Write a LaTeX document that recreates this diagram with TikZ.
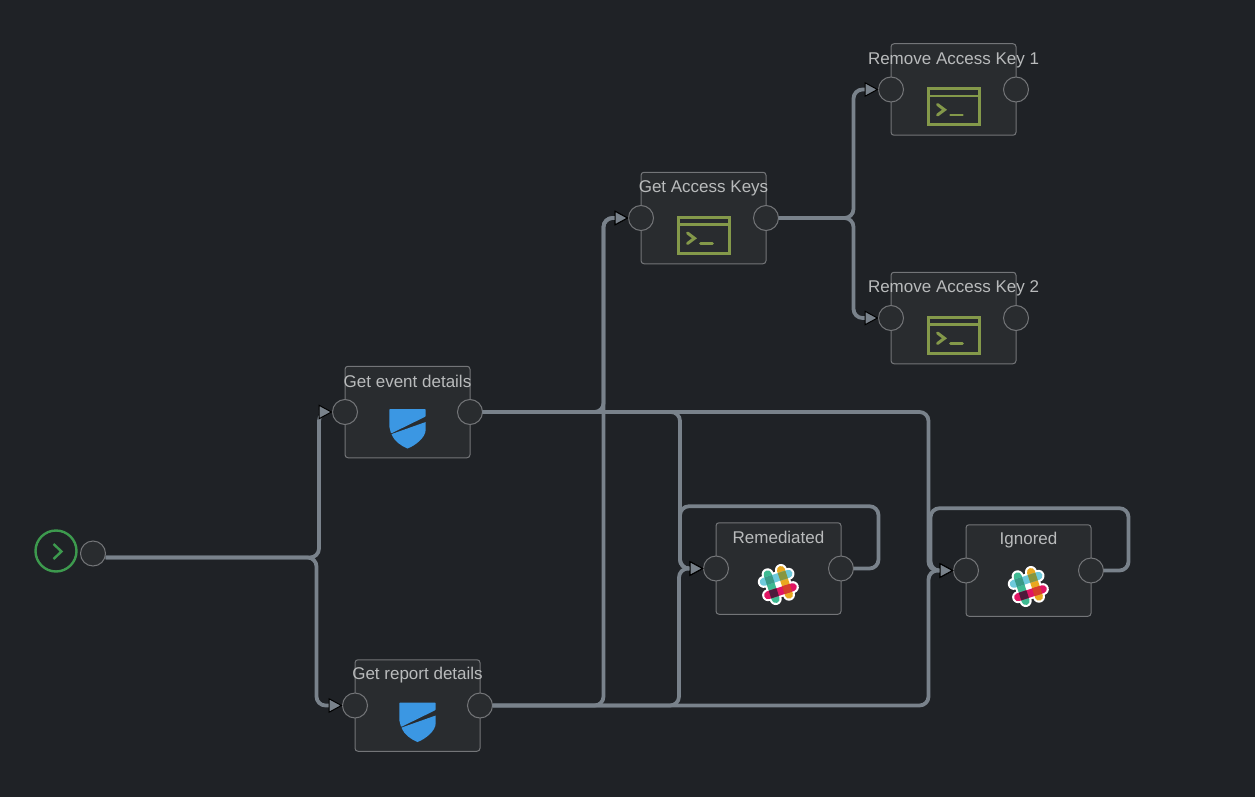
\documentclass[tikz,border=0pt]{standalone}
\usepackage{fontspec}
\setmainfont{Liberation Sans}
\usetikzlibrary{arrows.meta,calc}
\definecolor{bgc}{HTML}{1F2226}
\definecolor{boxc}{HTML}{292C2F}
\definecolor{edgec}{HTML}{737578}
\definecolor{wirec}{HTML}{79828B}
\definecolor{txtc}{HTML}{B9BBBC}
\definecolor{termc}{HTML}{84994A}
\definecolor{shieldc}{HTML}{3B97E3}
\definecolor{startc}{HTML}{3D9A4E}
\tikzset{
  x=1pt,y=-1pt,
  card/.style={draw=edgec,fill=boxc,line width=1pt,rounded corners=3pt,minimum width=125pt,minimum height=91.5pt,inner sep=0pt,outer sep=0pt},
  port/.style={circle,draw=edgec,fill=boxc,line width=1pt,minimum size=25pt,inner sep=0pt,outer sep=0pt},
  title/.style={text=txtc,font=\fontsize{17}{18}\selectfont,inner sep=0pt,anchor=center},
  wire/.style={draw=wirec,line width=3.8pt,rounded corners=9pt},
  into/.style={wire,-{Triangle[length=14pt,width=15pt,fill=wirec,color=black,line width=1pt]}},
  terminalicon/.pic={
    \draw[termc,line width=3pt] (-25.5,-18) rectangle (25.5,18.3);
    \draw[termc,line width=2.6pt] (-25.5,-10.5) -- (25.5,-10.5);
    \draw[termc,line width=3pt,line cap=round] (-16,-2) -- (-9,3.3) -- (-16,8.5);
    \draw[termc,line width=2.6pt,line cap=round] (-3,8.5) -- (9,8.5);
  },
  shieldicon/.pic={
    \fill[shieldc,rounded corners=0.8pt] (-18.2,-19.5) -- (18.2,-19.5) -- (18.2,-12) -- (-16.5,5) -- (-18.2,-2) -- cycle;
    \fill[shieldc] (-16,5.6) -- (18.2,-6.5) -- (18.2,1)
      .. controls (18.2,9) and (8,17) .. (0,20)
      .. controls (-7,17) and (-13,13) .. (-16,5.6) -- cycle;
  },
  slackicon/.pic={
    \begin{scope}[rotate=18,line cap=round]
      \draw[white,line width=12pt] (-7,-13) -- (-7,13) (7,-13) -- (7,13) (-13,-7) -- (13,-7) (-13,7) -- (13,7);
      \fill[white] (-8,-8) rectangle (8,8);
      \draw[line width=8pt,color={rgb,255:red,62;green,185;blue,145}] (-7,-13) -- (-7,13);
      \draw[line width=8pt,color={rgb,255:red,233;green,168;blue,32}] (7,-13) -- (7,13);
      \draw[line width=8pt,color={rgb,255:red,110;green,202;blue,220}] (-13,-7) -- (13,-7);
      \draw[line width=8pt,color={rgb,255:red,224;green,21;blue,99}] (-13,7) -- (13,7);
      \fill[color={rgb,255:red,58;green,155;blue,135}] (-11,-11) rectangle (-3,-3);
      \fill[color={rgb,255:red,136;green,150;blue,63}] (3,-11) rectangle (11,-3);
      \fill[color={rgb,255:red,77;green,26;blue,59}] (-11,3) rectangle (-3,11);
      \fill[color={rgb,255:red,214;green,62;blue,42}] (3,3) rectangle (11,11);
    \end{scope}
  }
}
\begin{document}
\begin{tikzpicture}
\fill[bgc] (0,0) rectangle (1255,797);
\useasboundingbox (0,0) rectangle (1255,797);

% start
\node[circle,draw=startc,line width=2.4pt,minimum size=41pt,inner sep=0pt] (start) at (56,551) {};
\draw[startc,line width=2.4pt] (53.5,544) -- (61.5,551.5) -- (53.5,559);
\node[port] (sp) at (93,553.5) {};

% cards
\node[card] (ev) at (407.5,412) {};
\node[port] (evi) at (ev.west) {};
\node[port] (evo) at (ev.east) {};
\node[title] (evt) at ([yshift=-15pt]ev.north) {Get event details};
\pic at (407.5,428.5) {shieldicon};

\node[card] (re) at (417.5,705.5) {};
\node[port] (rei) at (re.west) {};
\node[port] (reo) at (re.east) {};
\node[title] (ret) at ([yshift=-15.5pt]re.north) {Get report details};
\pic at (417.5,722) {shieldicon};

\node[card] (ak) at (703.5,218) {};
\node[port] (aki) at (ak.west) {};
\node[port] (ako) at (ak.east) {};
\node[title] (akt) at ([yshift=-16.5pt]ak.north) {Get Access Keys};
\pic at (703.5,235) {terminalicon};

\node[card] (ra) at (953.5,89.5) {};
\node[port] (rai) at (ra.west) {};
\node[port] (rao) at (ra.east) {};
\node[title] (rat) at ([yshift=-16.5pt]ra.north) {Remove Access Key 1};
\pic at (953.5,106.5) {terminalicon};

\node[card] (rb) at (953.5,318) {};
\node[port] (rbi) at (rb.west) {};
\node[port] (rbo) at (rb.east) {};
\node[title] (rbt) at ([yshift=-16.5pt]rb.north) {Remove Access Key 2};
\pic at (953.5,335) {terminalicon};

\node[card] (rm) at (778.5,568.5) {};
\node[port] (rmi) at (rm.west) {};
\node[port] (rmo) at (rm.east) {};
\node[title] (rmt) at ([yshift=-15pt]rm.north) {Remediated};
\pic at (778.3,584.5) {slackicon};

\node[card] (ig) at (1028.5,570.5) {};
\node[port] (igi) at (ig.west) {};
\node[port] (igo) at (ig.east) {};
\node[title] (igt) at ([yshift=-15pt]ig.north) {Ignored};
\pic at (1028.3,586.5) {slackicon};

% connectors
\draw[into] ([yshift=-4pt]sp.east) -| ([xshift=-13.5pt]evi.west) -- (evi.west);
\draw[into] ([yshift=-4pt]sp.east) -| ([xshift=-26pt]rei.west) -- (rei.west);

\draw[into] (evo.east) -| ([xshift=-25pt]aki.west) -- (aki.west);
\draw[into] (reo.east) -| ([xshift=-25pt]aki.west) -- (aki.west);

\draw[into] (evo.east) -| ([xshift=-23.5pt]rmi.west) -- (rmi.west);
\draw[into] (reo.east) -| ([xshift=-24.5pt]rmi.west) -- (rmi.west);

\draw[into] (evo.east) -| ([xshift=-25pt]igi.west) -- (igi.west);
\draw[into] (reo.east) -| ([xshift=-25pt]igi.west) -- (igi.west);

\draw[into] (ako.east) -| ([xshift=-25pt]rai.west) -- (rai.west);
\draw[into] (ako.east) -| ([xshift=-25pt]rbi.west) -- (rbi.west);

\draw[into] (rmo.east) -- ++(25,0) |- ([yshift=16.5pt]rm.north) -| ([xshift=-23.5pt]rmi.west) -- (rmi.west);
\draw[into] (igo.east) -- ++(25,0) |- ([yshift=16.5pt]ig.north) -| ([xshift=-23pt]igi.west) -- (igi.west);
\end{tikzpicture}
\end{document}
